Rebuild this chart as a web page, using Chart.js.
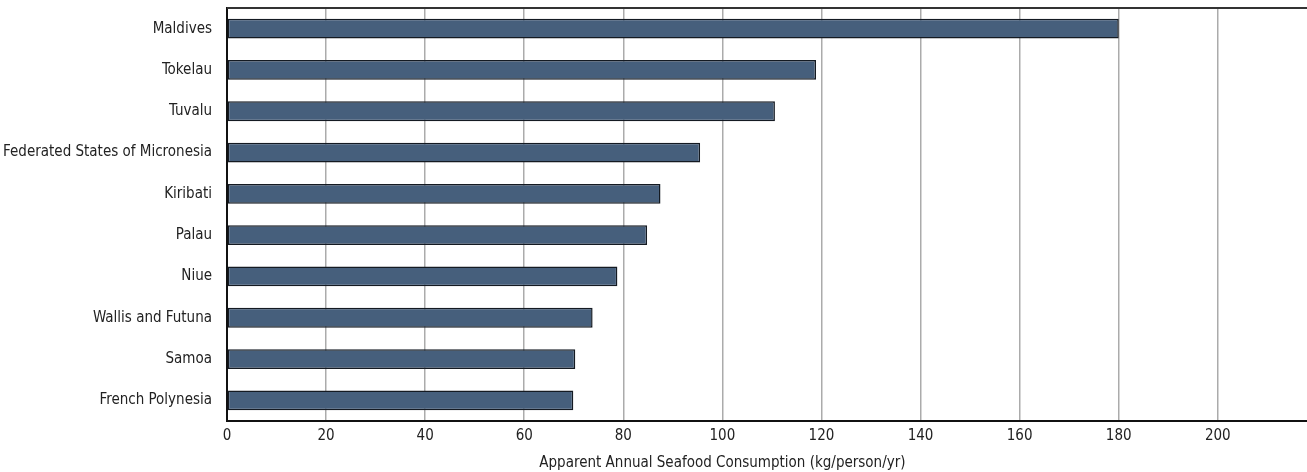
<!DOCTYPE html>
<html lang="en">
<head>
    <meta charset="UTF-8">
    <title>Apparent Annual Seafood Consumption</title>
    <script src="https://cdn.jsdelivr.net/npm/chart.js"></script>
    <style>
        html, body { margin: 0; padding: 0; background: #fff; }
        #wrap { width: 1307px; height: 472px; }
    </style>
</head>
<body>
    <div id="wrap"><canvas id="seafoodChart"></canvas></div>

    <script>
        // dados
        const paises = ['Maldives', 'Tokelau', 'Tuvalu', 'Federated States of Micronesia', 'Kiribati',
            'Palau', 'Niue', 'Wallis and Futuna', 'Samoa', 'French Polynesia'];
        const consumo = [180.0, 118.9, 110.6, 95.5, 87.5, 84.8, 78.8, 73.8, 70.3, 69.9];
        const xTicks = [0, 20, 40, 60, 80, 100, 120, 140, 160, 180, 200];
        const xMax = 218;
        const tituloX = 'Apparent Annual Seafood Consumption (kg/person/yr)';

        const fonte = "'Liberation Sans Narrow', 'DejaVu Sans Condensed', 'Roboto', sans-serif";

        // linha de cima + titulo do eixo x
        const molduraPlugin = {
            id: 'moldura',
            afterDraw(chart) {
                const ctx = chart.ctx;
                const area = chart.chartArea;
                const x = chart.scales.x;
                ctx.save();
                ctx.strokeStyle = '#333';
                ctx.lineWidth = 2;
                ctx.beginPath();
                ctx.moveTo(area.left, area.top);
                ctx.lineTo(area.right, area.top);
                ctx.stroke();

                ctx.fillStyle = '#222';
                ctx.font = '15px ' + fonte;
                ctx.textAlign = 'center';
                ctx.textBaseline = 'middle';
                const cx = (x.getPixelForValue(xTicks[0]) + x.getPixelForValue(xTicks[xTicks.length - 1])) / 2;
                ctx.fillText(tituloX, cx, chart.height - 9);
                ctx.restore();
            }
        };

        new Chart(document.getElementById('seafoodChart'), {
            type: 'bar',
            data: {
                labels: paises,
                datasets: [{
                    label: 'Consumption',
                    data: consumo,
                    backgroundColor: '#465f7c',
                    borderColor: '#141a22',
                    borderWidth: 1.5,
                    borderSkipped: false,
                    categoryPercentage: 1,
                    barPercentage: 0.48
                }]
            },
            options: {
                indexAxis: 'y',
                responsive: true,
                maintainAspectRatio: false,
                animation: false,
                layout: {
                    padding: { top: 8, right: 0, bottom: 21, left: 0 }
                },
                plugins: {
                    legend: { display: false },
                    tooltip: { enabled: false }
                },
                scales: {
                    x: {
                        min: 0,
                        max: xMax,
                        afterBuildTicks: function (scale) {
                            scale.ticks = xTicks.map(v => ({ value: v }));
                        },
                        afterFit: function (scale) {
                            scale.paddingRight = 0;
                        },
                        ticks: {
                            includeBounds: false,
                            color: '#222',
                            padding: 6,
                            maxRotation: 0,
                            font: { family: fonte, size: 15 }
                        },
                        grid: {
                            color: '#ababab',
                            lineWidth: 1.5,
                            drawTicks: false
                        },
                        border: { display: true, color: '#111', width: 2 }
                    },
                    y: {
                        afterFit: function (scale) {
                            scale.width = 227;
                            scale.paddingTop = 0;
                            scale.paddingBottom = 0;
                        },
                        ticks: {
                            color: '#222',
                            padding: 15,
                            font: { family: fonte, size: 15 }
                        },
                        grid: { display: false, drawTicks: false },
                        border: { display: true, color: '#111', width: 2 }
                    }
                }
            },
            plugins: [molduraPlugin]
        });
    </script>
</body>
</html>
